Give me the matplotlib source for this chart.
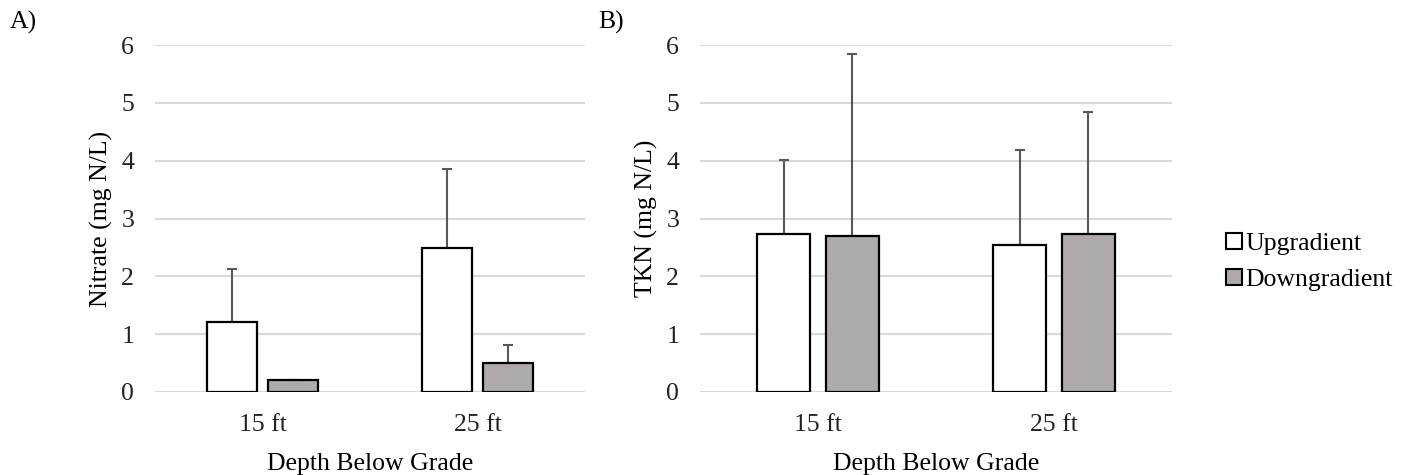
import numpy as np
import matplotlib
matplotlib.use("Agg")
import matplotlib.pyplot as plt
from matplotlib.patches import Patch

plt.rcParams['font.family'] = ['Liberation Serif', 'DejaVu Serif']

depths = ['15 ft', '25 ft']
series = ['Upgradient', 'Downgradient']
colors = ['#FFFFFF', '#AEAAAA']

# Nitrate (mg N/L), mean and upper error
nitrate_up = [1.21, 2.49]
nitrate_up_err = [0.92, 1.36]
nitrate_down = [0.20, 0.50]
nitrate_down_err = [0.0, 0.32]

# TKN (mg N/L)
tkn_up = [2.74, 2.55]
tkn_up_err = [1.28, 1.63]
tkn_down = [2.70, 2.74]
tkn_down_err = [3.14, 2.10]

FS = 18.5

fig = plt.figure(figsize=(14.03, 4.75), dpi=100)
axA = fig.add_axes([155/1403, 1-392/475, 430/1403, 347/475])
axB = fig.add_axes([700/1403, 1-392/475, 472/1403, 347/475])


def draw(ax, up, up_err, down, down_err, ylabel, w, off):
    x = np.arange(len(depths))
    vals = [up, down]
    errs = [up_err, down_err]
    for i in range(2):
        xi = x + (off if i else -off)
        ax.bar(xi, vals[i], width=w, color=colors[i], edgecolor='black',
               linewidth=1.6, zorder=3)
        ax.errorbar(xi, vals[i], yerr=[np.zeros(2), errs[i]], fmt='none',
                    ecolor='#595959', elinewidth=1.5, capsize=3.5,
                    capthick=1.5, zorder=2)
    ax.set_xlim(-0.5, 1.5)
    ax.set_ylim(0, 6)
    ax.set_yticks(range(7))
    ax.set_xticks(x)
    ax.set_xticklabels(depths)
    ax.yaxis.grid(True, color='#D9D9D9', linewidth=1.5, zorder=0)
    ax.set_axisbelow(True)
    for s in ax.spines.values():
        s.set_visible(False)
    ax.tick_params(length=0, labelsize=FS, colors='#222222')
    ax.tick_params(axis='y', pad=15)
    ax.tick_params(axis='x', pad=16)
    ax.set_ylabel(ylabel, fontsize=FS, labelpad=6)
    ax.set_xlabel('Depth Below Grade', fontsize=FS, labelpad=12)


draw(axA, nitrate_up, nitrate_up_err, nitrate_down, nitrate_down_err,
     'Nitrate (mg N/L)', 0.232, 0.14)
draw(axB, tkn_up, tkn_up_err, tkn_down, tkn_down_err,
     'TKN (mg N/L)', 0.225, 0.146)

fig.text(10/1403, 1-22/475, 'A)', fontsize=FS, va='center')
fig.text(598/1403, 1-22/475, 'B)', fontsize=FS, va='center')

handles = [Patch(facecolor=colors[i], edgecolor='black', linewidth=1.5,
                 label=series[i]) for i in range(2)]
fig.legend(handles=handles, loc='center left',
           bbox_to_anchor=(1203/1403, 1-262/475), frameon=False,
           fontsize=FS, handlelength=0.6, handleheight=0.6,
           handletextpad=0.15, labelspacing=0.55)

fig.savefig('out.png', dpi=100)
